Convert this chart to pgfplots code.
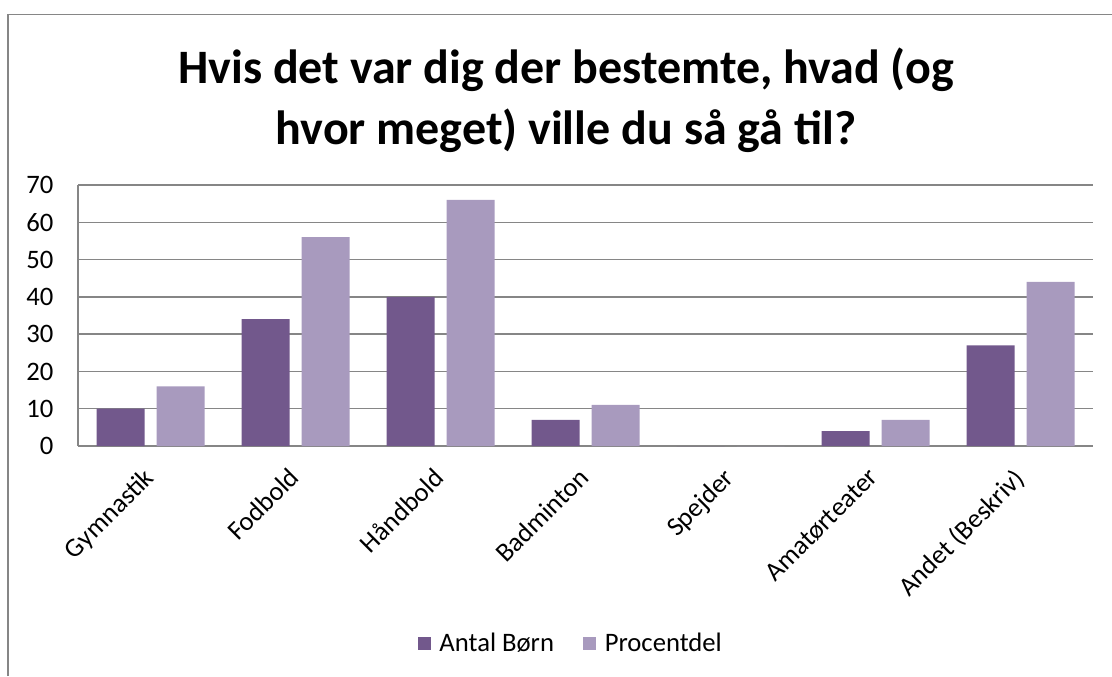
\documentclass[border=0pt]{standalone}
\usepackage{pgfplots}
\pgfplotsset{compat=1.18}
\usepackage{fontspec}
\setmainfont{Carlito}
\definecolor{antal}{RGB}{114,88,140}
\definecolor{procent}{RGB}{168,154,190}
\definecolor{gridc}{RGB}{134,134,134}

\begin{document}
\begin{tikzpicture}
\useasboundingbox (0,0) rectangle (834pt,507pt);
% chart frame (only top and left edges visible)
\draw[gridc,line width=1.1pt] (6pt,0) -- (6pt,496pt) -- (834pt,496pt);
\node[font=\bfseries\fontsize{36}{46}\selectfont,align=center] at (424.5pt,432pt)
  {Hvis det var dig der bestemte, hvad (og\\hvor meget) ville du så gå til?};
\begin{axis}[
  at={(58.5pt,172.5pt)}, anchor=south west,
  scale only axis, width=761.25pt, height=195.75pt,
  ybar, bar width=36pt,
  xmin=-0.5, xmax=6.5, ymin=0, ymax=70,
  ytick={0,10,...,70},
  xtick=data,
  xticklabels={Gymnastik,Fodbold,Håndbold,Badminton,Spejder,Amatørteater,Andet (Beskriv)},
  xticklabel style={rotate=45,anchor=north east,xshift=-11.7pt,yshift=-3pt},
  yticklabel style={xshift=-15pt},
  major tick length=0pt,
  axis x line*=bottom, axis y line*=left,
  axis line style={gridc,line width=1.1pt,-},
  ymajorgrids, grid style={gridc,line width=1.1pt},
  tick label style={font=\fontsize{20}{24}\selectfont},
  /pgf/number format/assume math mode=true,
  legend style={at={(0.486,-0.755)},anchor=center,draw=none,
    legend columns=2,font=\fontsize{20}{24}\selectfont,
    /tikz/every even column/.append style={column sep=20pt}},
  legend image code/.code={\fill[#1] (0pt,-4.9pt) rectangle (9.75pt,4.9pt);
    \path (14pt,0pt);},
]
\addplot[fill=antal,draw=none,bar shift=-22.5pt] coordinates
  {(0,10) (1,34) (2,40) (3,7) (4,0) (5,4) (6,27)};
\addplot[fill=procent,draw=none,bar shift=22.5pt] coordinates
  {(0,16) (1,56) (2,66) (3,11) (4,0) (5,7) (6,44)};
\legend{Antal Børn,Procentdel}
\end{axis}
\end{tikzpicture}
\end{document}
